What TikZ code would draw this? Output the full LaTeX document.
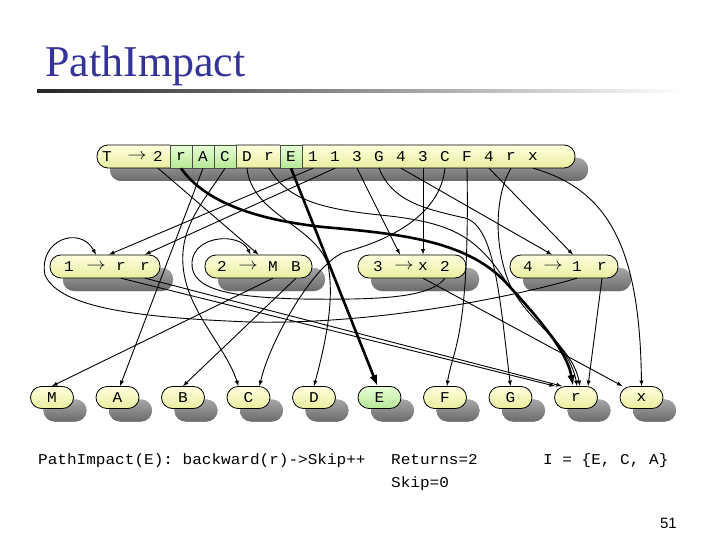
\documentclass[tikz,border=0pt]{standalone}
\usepackage{fontspec}
\setmainfont{Liberation Serif}
\newfontfamily\codefont{Liberation Mono}[FakeStretch=1.07]
\newfontfamily\numfont{Liberation Sans}
\usetikzlibrary{arrows,arrows.meta,shadows}
\definecolor{titleblue}{RGB}{51,51,153}
\definecolor{boxtop}{RGB}{255,255,222}
\definecolor{boxbot}{RGB}{232,238,158}
\definecolor{hitop}{RGB}{232,255,214}
\definecolor{hibot}{RGB}{182,232,150}
\newcommand\symfont{\codefont\fontsize{15}{18}\selectfont}
\newcommand\rto{\scalebox{1.35}[1.1]{$\rightarrow$}}
\tikzset{%
rulebox/.style={draw, line width=0.8pt, rounded corners=11pt, minimum height=23pt, inner sep=0pt,
    top color=boxtop, bottom color=boxbot,
    drop shadow={shadow xshift=13pt, shadow yshift=-13pt, opacity=1, top color=black!35, bottom color=black!58}},
leafbox/.style={rulebox, minimum width=43pt, minimum height=22pt, font=\symfont},
leafhi/.style={leafbox, top color=hitop, bottom color=hibot},
sym/.style={inner sep=0pt, minimum width=22pt, minimum height=23pt, font=\symfont},
symhi/.style={sym, draw=black!70, line width=0.5pt, top color=hitop, bottom color=hibot},
edge/.style={->, >=latex, line width=0.9pt},
hot/.style={->, >={Latex[length=11pt,width=8pt]}, line width=2.6pt},
}

\begin{document}
\begin{tikzpicture}[x=1pt,y=-1pt]
        \fill[white] (0,0) rectangle (720,540);
        \useasboundingbox (0,0) rectangle (720,540);
        % title
        \node[anchor=base west, inner sep=0pt, font=\fontsize{44}{48}\selectfont, text=titleblue] (title) at (45,77) {PathImpact};
        \shade[left color=black!85, right color=white] (37,89.5) rectangle (685,92.5);
        % start rule
        \node[rulebox, minimum width=478pt] (root) at (336,156.5) {};
        \foreach \nm/\txt/\px/\sty in {tT/T/107/sym, tarr/\rto/137/sym, t2/2/158/sym,
            tr1/r/181/symhi, tA/A/203/symhi, tC1/C/225/symhi, tD/D/247/sym, tr2/r/269/sym, tE/E/291/symhi,
            t11/1/313/sym, t12/1/335/sym, t31/3/357/sym, tG/G/379/sym, t41/4/401/sym, t32/3/423/sym,
            tC2/C/445/sym, tF/F/467/sym, t42/4/489/sym, tr3/r/511/sym, tx/x/533/sym}
            \node[\sty] (\nm) at (\px,156.5) {\txt};
        % rules
        \foreach \nm/\cx/\len in {n1/105/110, n2/258.5/107, n3/412/108, n4/564/108}
            \node[rulebox, minimum width=\len pt] (\nm) at (\cx,266.5) {};
        \foreach \nm/\txt/\px in {n1l/1/69, n1a/\rto/96, n1r1/r/121, n1r2/r/145,
            n2l/2/222, n2a/\rto/248, n2M/M/273, n2B/B/296,
            n3l/3/378, n3a/\rto/404, n3x/x/423, n3two/2/445,
            n4l/4/528, n4a/\rto/553, n4one/1/577, n4r/r/602}
            \node[sym] (\nm) at (\px,266.5) {\txt};
        % terminals
        \foreach \nm/\sty [count=\i from 0] in {M/leafbox, A/leafbox, B/leafbox, C/leafbox, D/leafbox,
            E/leafhi, F/leafbox, G/leafbox, r/leafbox, x/leafbox}
            \node[\sty] (b\nm) at (52+65.5*\i,397.5) {\nm};
        % edges of the start rule
        \draw[edge] (t2.south) -- (n2.north);
        \draw[hot] (tr1.south) .. controls (200,195) and (240,218) .. (323,227)
            .. controls (400,234) and (470,240) .. (510,287)
            .. controls (545,325) and (568,355) .. ([xshift=-3pt]br.north);
        \draw[edge] (tA.south) -- ([xshift=2.5pt]bA.north);
        \draw[edge] (tC1.south) .. controls (205,200) and (180,225) .. (183,265)
            .. controls (186,310) and (225,345) .. ([xshift=-10pt]bC.north);
        \draw[edge] (tD.south) .. controls (252,215) and (315,225) .. (328,265)
            .. controls (335,300) and (325,345) .. (bD.north);
        \draw[edge] (tr2.south) .. controls (285,195) and (310,208) .. (380,215)
            .. controls (450,222) and (475,235) .. (505,280)
            .. controls (525,310) and (570,345) .. ([xshift=1pt]br.north);
        \draw[hot] (tE.south) -- ([xshift=-2pt]bE.north);
        \draw[edge] (t11.south) -- ([xshift=4pt]n1.north);
        \draw[edge] (t12.south) -- ([xshift=40pt]n1.north);
        \draw[edge] (t31.south) -- ([xshift=-12pt]n3.north);
        \draw[edge] (tG.south) .. controls (392,200) and (420,208) .. (465,218)
            .. controls (495,226) and (500,300) .. (bG.north);
        \draw[edge] (t41.south) -- ([xshift=-12pt]n4.north);
        \draw[edge] (t32.south) -- ([xshift=11pt]n3.north);
        \draw[edge] (tC2.south) .. controls (440,215) and (390,240) .. (345,252)
            .. controls (315,262) and (270,340) .. ([xshift=11pt]bC.north);
        \draw[edge] (tF.south) .. controls (470,340) and (452,350) .. ([xshift=2pt]bF.north);
        \draw[edge] (t42.south) -- ([xshift=9pt]n4.north);
        \draw[edge] (tr3.south) .. controls (495,195) and (493,245) .. (510,285)
            .. controls (530,325) and (572,345) .. ([xshift=4pt]br.north);
        \draw[edge] (tx.south) .. controls (610,190) and (640,250) .. (bx.north);
        % edges of the rules
        \draw[edge] (n1r1.south) -- ([xshift=-21pt]br.north);
        \draw[edge] (n1r2.south) -- ([xshift=-14pt]br.north);
        \draw[edge] (n2M.south) -- (bM.north);
        \draw[edge] (n2B.south) -- (bB.north);
        \draw[edge] (n3x.south) -- ([xshift=-19pt]bx.north);
        \draw[edge] (n3two.south) .. controls (430,298) and (380,300) .. (300,299)
            .. controls (230,297) and (190,290) .. (192,262)
            .. controls (194,235) and (240,232) .. ([xshift=-8pt]n2.north);
        \draw[edge] (n4one.south) .. controls (520,295) and (380,325) .. (250,322)
            .. controls (150,318) and (60,310) .. (45,275)
            .. controls (38,240) and (80,225) .. ([xshift=-9pt]n1.north);
        \draw[edge] (n4r.south) -- ([xshift=12pt]br.north);
        % notes
        \node[anchor=base west, inner sep=0pt, font=\symfont] (trace) at (38,464) {PathImpact(E): backward(r)->Skip++};
        \node[anchor=base west, inner sep=0pt, font=\symfont] (returns) at (391,464) {Returns=2};
        \node[anchor=base west, inner sep=0pt, font=\symfont] (skip) at (391,487) {Skip=0};
        \node[anchor=base west, inner sep=0pt, font=\symfont] (impact) at (543,464) {I = \{E, C, A\}};
        \node[anchor=base east, inner sep=0pt, font=\numfont\fontsize{15}{18}\selectfont] (page) at (677,528) {51};
\end{tikzpicture}
\end{document}
